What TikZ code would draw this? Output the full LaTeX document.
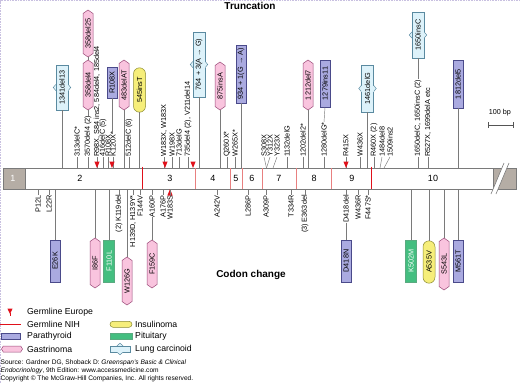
\documentclass[tikz,border=0pt]{standalone}
\usepackage{fontspec}
\setmainfont{Liberation Sans}
\usetikzlibrary{shapes.symbols,shapes.misc,calc}
\definecolor{paraF}{HTML}{AAAAE0}
\definecolor{paraB}{HTML}{4A4A8A}
\definecolor{gasF}{HTML}{F9C4DE}
\definecolor{gasB}{HTML}{9A4A78}
\definecolor{insF}{HTML}{F6EE7A}
\definecolor{insB}{HTML}{8A8A30}
\definecolor{pitF}{HTML}{44BE80}
\definecolor{pitB}{HTML}{5AAA80}
\definecolor{lungF}{HTML}{DDF2FA}
\definecolor{lungB}{HTML}{5A8AA0}
\definecolor{tickc}{HTML}{7A7A7A}
\definecolor{exonG}{HTML}{B5ADA5}
\definecolor{germ}{HTML}{E0101A}
\definecolor{divc}{HTML}{E88080}
\definecolor{framec}{HTML}{C8C0E0}
\newcommand{\lblfont}{\fontsize{7.3}{7.3}\selectfont}
\newcommand{\lungnotch}[1]{%
 \foreach \s in {north,south}{%
  \coordinate (#1-\s-a) at ($(#1.\s)!3pt!90:(#1.center)$);
  \coordinate (#1-\s-b) at ($(#1.\s)!3pt!-90:(#1.center)$);
  \coordinate (#1-\s-t) at ($(#1.\s)!-2.5pt!(#1.center)$);
  \fill[lungF] (#1-\s-a) -- (#1-\s-t) -- (#1-\s-b) -- cycle;
  \draw[lungF, line width=1.2pt] (#1-\s-a) -- (#1-\s-b);
  \draw[lungB, line width=0.5pt] (#1-\s-a) -- (#1-\s-t) -- (#1-\s-b);
 }}
\newcommand{\germdown}[2]{\fill[germ] ({#1-2.6},{#2-6.5}) -- ({#1+2.6},{#2-6.5}) -- (#1,#2) -- cycle;}
\newcommand{\germup}[2]{\fill[germ] ({#1-2.6},{#2+6.5}) -- ({#1+2.6},{#2+6.5}) -- (#1,#2) -- cycle;}
\tikzset{
 lbl/.style={font=\lblfont, inner sep=0pt, rotate=90},
 tl/.style={lbl, anchor=west},
 bl/.style={lbl, anchor=east},
 tk/.style={draw=tickc, line width=0.45pt},
 vb/.style={rotate=90, font=\lblfont, inner sep=0.8pt},
 parab/.style={rectangle, draw=paraB, fill=paraF, line width=0.5pt, minimum height=10pt},
 gasb/.style={signal, signal to=east and west, signal pointer angle=110, draw=gasB, fill=gasF, line width=0.5pt, minimum height=10pt},
 insb/.style={rounded rectangle, draw=insB, fill=insF, line width=0.5pt, minimum height=12pt},
 pitb/.style={rectangle, draw=pitB, fill=pitF, text=white, line width=0.5pt, minimum height=11pt},
 lungb/.style={rectangle, draw=lungB, fill=lungF, line width=0.5pt, minimum height=12pt},
 exn/.style={font=\fontsize{9}{9}\selectfont, inner sep=0pt},
 leg/.style={font=\fontsize{8.7}{9}\selectfont, anchor=west, inner sep=0pt},
 src/.style={font=\fontsize{6.6}{6.8}\selectfont, anchor=west, inner sep=0pt},
 ttl/.style={font=\bfseries\fontsize{10}{10}\selectfont, inner sep=0pt}
}
\begin{document}
\begin{tikzpicture}[x=1pt,y=-1pt]
\useasboundingbox (0,0) rectangle (520,383);
\draw[framec, densely dotted, line width=0.6pt] (0.5,383) -- (0.5,0.5) -- (520,0.5);
% titles
\node[ttl] (trunc) at (250,6) {Truncation};
\node[ttl] (codon) at (251,275) {Codon change};
% bar
\coordinate (bartop) at (0,168);
\coordinate (barbot) at (0,189);
\draw[draw=tickc, fill=white, line width=0.6pt] (3,168) rectangle (493,189);
\draw[draw=tickc, fill=exonG, line width=0.6pt] (3,168) rectangle (25,189);
\draw[draw=tickc, fill=exonG, line width=0.6pt] (493,168) rectangle (516,189);
\fill[white] (491,194) -- (496,194) -- (509,163) -- (504,163) -- cycle;
\draw[tickc, line width=0.6pt] (491,194) -- (504,163) (496,194) -- (509,163);
\foreach \x in {195,230,242,262,296,331} \draw[divc, line width=0.5pt] (\x,168.3) -- (\x,188.7);
\draw[germ, line width=0.6pt] (142,166.5) -- (142,189);
\draw[germ, line width=0.6pt] (371,166.5) -- (371,189);
\node[exn, text=white] (e1) at (13,178.5) {1};
\node[exn] (e2) at (80,178.5) {2};
\node[exn] (e3) at (170,178.5) {3};
\node[exn] (e4) at (213,178.5) {4};
\node[exn] (e5) at (236,178.5) {5};
\node[exn] (e6) at (252,178.5) {6};
\node[exn] (e7) at (279,178.5) {7};
\node[exn] (e8) at (314,178.5) {8};
\node[exn] (e9) at (352,178.5) {9};
\node[exn] (e10) at (433,178.5) {10};
% top labels
\foreach \n/\x/\t in {t1/77/313delC*, t2/88/3570del4 (2), t3/97/{R98X, S84 ins2, 584del4, 185del4}, t4/103/416delC (5), t5/108/R108X, t6/113/K120X*, t7/129/512delC (6), t8/164/{W183X, W183X}, t9/172/W198X, t10/179/713delG, t11/188/{735del4 (2), V211del14}, t12/227/Q260X*, t13/235/W265X*, t14/264/S308X, t15/270/Y312X, t16/277/Y323X, t17/287/1132delG, t18/303/1202del2*, t19/324/1280delG*, t20/346/R415X, t21/360/W436X, t22/374/R460X (2), t23/382/1484del8, t24/390/1509ins2, t25/418/{1650delC, 1650insC (2)}, t26/428/{R527X, 1699delA etc}}
  \node[tl] (\n) at (\x,157) {\t};
\foreach \n in {t1,t2,t3,t4,t5,t6,t7,t8,t9,t10,t11,t12,t13,t17,t18,t19,t20,t21,t22,t25,t26}
  \draw[tk] (\n.west) -- (\n.west |- bartop);
\coordinate (cv1) at (266.5,168);
\coordinate (cv2) at (273,168);
\coordinate (cv3) at (380,168);
\coordinate (cv4) at (384,168);
\draw[tk] (t14.west) -- (cv1);
\draw[tk] (t15.west) -- (cv1);
\draw[tk] (t16.west) -- (cv2);
\draw[tk] (t23.west) -- (cv3);
\draw[tk] (t24.west) -- (cv4);
% top boxes
\node[vb, lungb, minimum width=45pt] (b1) at (62,87.5) {1341del13};
\node[vb, gasb, minimum width=47pt] (b2) at (88,33.5) {358del25};
\node[vb, gasb, minimum width=50pt] (b3) at (88,85) {358del4};
\node[vb, parab, minimum width=31pt] (b4) at (112,82.5) {R108X};
\node[vb, gasb, minimum width=50pt] (b5) at (124,85) {483delAT};
\node[vb, insb, minimum width=46pt] (b6) at (139.5,90) {545insT};
\node[vb, lungb, minimum width=65pt] (b7) at (199,64.5) {764 + 3(A → G)};
\node[vb, gasb, minimum width=48pt] (b8) at (220,86) {875insA};
\node[vb, parab, minimum width=58pt] (b9) at (241,74) {934 + 1(G → A)};
\node[vb, gasb, minimum width=50pt] (b10) at (308,85) {1212del7};
\node[vb, parab, minimum width=47pt] (b11) at (325,83.5) {1279ins11};
\node[vb, lungb, minimum width=47pt] (b12) at (367.5,88.5) {1461delG};
\node[vb, lungb, minimum width=46pt] (b13) at (418,35) {1650insC};
\node[vb, parab, minimum width=48pt] (b14) at (458,84) {1812del5};
\foreach \b in {b1,b7,b12,b13} \lungnotch{\b}
\draw[tk] (b2.west) -- (b3.east);
\draw[tk] (b3.west) -- (t2.east);
\draw[tk] (b4.west) -- (b4.west |- t5.east);
\draw[tk] (b11.west) -- (t19.east);
\draw[tk] (b13.west) -- (t25.east);
\foreach \b in {b1,b5,b6,b7,b8,b9,b10,b12,b14}
  \draw[tk] (\b.west) -- (\b.west |- bartop);
% germline markers
\germdown{97}{168}
\germdown{112}{168}
\germdown{165}{168}
\germdown{193}{168}
\germdown{346}{168}
\germup{170}{189}
% bottom labels
\foreach \n/\x/\t in {u1/38/P12L, u2/49/L22R, u3/119/(2) K119del, u4/133/{H139D, H139Y*}, u5/140/F144V, u6/152/A160P, u7/163/A176P, u8/170/W183S, u9/217/A242V, u10/248/L286P, u11/266/A309P, u12/291/T334R, u13/305/(3) E363del, u14/346/D418del, u15/358/W436R, u16/368/F447S*}
  \node[bl] (\n) at (\x,195) {\t};
\foreach \n in {u1,u2,u3,u4,u5,u6,u7,u8,u9,u10,u11,u12,u13,u14,u15,u16}
  \draw[tk] (\n.east |- barbot) -- (\n.east);
% bottom boxes
\node[vb, parab, minimum width=42pt] (c1) at (55,261) {E26K};
\node[vb, gasb, minimum width=50pt] (c2) at (95,263) {I86F};
\node[vb, pitb, minimum width=42pt] (c3) at (109,261) {F110L};
\node[vb, gasb, minimum width=48pt] (c4) at (127,281) {W126G};
\node[vb, gasb, minimum width=48pt] (c5) at (152,264) {F159C};
\node[vb, parab, minimum width=42pt] (c6) at (346,261) {D418N};
\node[vb, pitb, minimum width=42pt] (c7) at (411,261) {K502M};
\node[vb, insb, minimum width=44pt] (c8) at (429,262) {A535V};
\node[vb, gasb, minimum width=52pt] (c9) at (444,264) {S543L};
\node[vb, parab, minimum width=42pt] (c10) at (458,261) {M561T};
\foreach \c in {c1,c2,c3,c4,c7,c8,c9,c10}
  \draw[tk] (\c.east |- barbot) -- (\c.east);
\draw[tk] (u6.west) -- (c5.east);
\draw[tk] (u14.west) -- (c6.east);
% scale bar
\node[font=\fontsize{7.2}{7.2}\selectfont, inner sep=0pt] (sc) at (500,113) {100 bp};
\coordinate (sa) at (488,125);
\coordinate (sb) at (513,125);
\draw[tickc!70!black, line width=0.6pt] (sa) -- (sb) ($(sa)+(0,-3)$) -- ($(sa)+(0,3)$) ($(sb)+(0,-3)$) -- ($(sb)+(0,3)$);
% legend
\fill[germ] (7.4,308.5) -- (12.6,308.5) -- (10,314) -- cycle;
\draw[germ, line width=0.8pt] (10,313) -- (10,316);
\node[leg] (l1) at (27,312) {Germline Europe};
\coordinate (nh1) at (0,324.3);
\coordinate (nh2) at (21,324.3);
\draw[germ, line width=0.5pt] (nh1) -- (nh2);
\node[leg] (l2) at (27,324.3) {Germline NIH};
\node[parab, minimum width=19pt, minimum height=6pt, inner sep=0pt] (k1) at (11,336) {};
\node[leg] (l3) at (27,336) {Parathyroid};
\node[gasb, minimum width=21pt, minimum height=6pt, inner sep=0pt, signal pointer angle=120] (k2) at (12,349) {};
\node[leg] (l4) at (27,349) {Gastrinoma};
\node[insb, minimum width=22pt, minimum height=6pt, inner sep=0pt] (k3) at (121,324.3) {};
\node[leg] (l5) at (135,324.3) {Insulinoma};
\node[pitb, minimum width=22pt, minimum height=6pt, inner sep=0pt] (k4) at (121,336) {};
\node[leg] (l6) at (135,336) {Pituitary};
\node[lungb, minimum width=20pt, minimum height=6pt, inner sep=0pt] (k5) at (120,349) {};
\lungnotch{k5}
\node[leg] (l7) at (135,349) {Lung carcinoid};
% source
\node[src] (s1) at (0.5,363) {Source: Gardner DG, Shoback D: \textit{Greenspan's Basic \& Clinical}};
\node[src] (s2) at (0.5,371) {\textit{Endocrinology}, 9th Edition: www.accessmedicine.com};
\node[src] (s3) at (0.5,379) {Copyright © The McGraw-Hill Companies, Inc. All rights reserved.};
\end{tikzpicture}
\end{document}
